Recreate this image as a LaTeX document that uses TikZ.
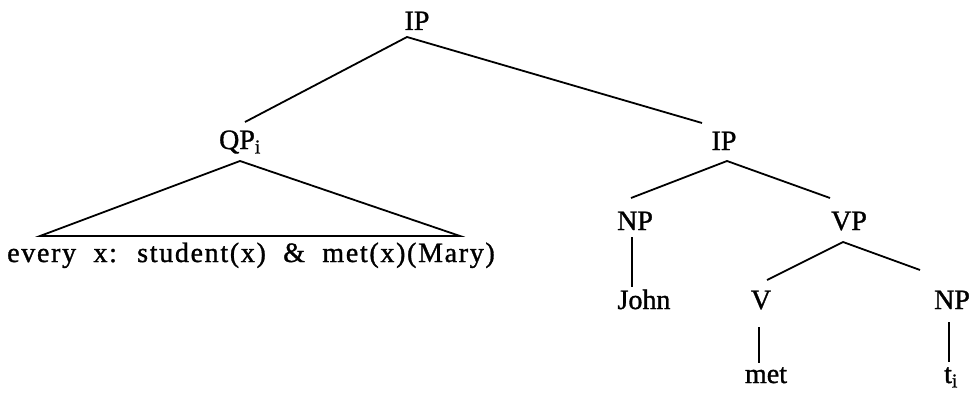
\documentclass[tikz,border=0pt]{standalone}
\usepackage{fontspec}
\setmainfont[FakeBold=1.2]{Liberation Serif}
\newfontfamily\widefont[LetterSpace=6,WordSpace=2,FakeBold=1.2]{Liberation Serif}
\begin{document}
\begin{tikzpicture}[x=1pt,y=-1pt,
  lbl/.style={anchor=base,inner sep=0pt,font=\fontsize{28}{34}\selectfont},
  edge/.style={line width=1.8pt,line join=miter}]
\useasboundingbox (0,0) rectangle (973,393);
% labels
\node[lbl] (ip1) at (417,30) {IP};
\node[lbl] (qp) at (240,149) {QP\textsubscript{i}};
\node[lbl] (ip2) at (724,150) {IP};
\node[lbl] (np1) at (635,230) {NP};
\node[lbl] (vp) at (849,230) {VP};
\node[lbl] (john) at (644,309) {John};
\node[lbl] (v) at (761,309) {V};
\node[lbl] (np2) at (952,309) {NP};
\node[lbl] (met) at (766,383) {met};
\node[lbl] (ti) at (951,383) {t\textsubscript{i}};
\node[lbl,font=\fontsize{28}{34}\widefont] (every) at (251,262) {every x: student(x) \& met(x)(Mary)};
% connector ends
\coordinate (ip1a) at (407,37);
\coordinate (qpt) at (245,122);
\coordinate (ip2t) at (702,123);
\coordinate (qpa) at (240,161);
\coordinate (trl) at (40,236);
\coordinate (trr) at (460,236);
\coordinate (ip2a) at (727,161);
\coordinate (np1t) at (631,198);
\coordinate (vpt) at (830,198);
\coordinate (np1b) at (632,237);
\coordinate (johnt) at (632,287);
\coordinate (vpa) at (843,242);
\coordinate (vt) at (767,280);
\coordinate (np2t) at (920,270);
\coordinate (vb) at (759,327);
\coordinate (mett) at (759,363);
\coordinate (np2b) at (949,322);
\coordinate (tit) at (949,362);
% connectors
\draw[edge] (qpt) -- (ip1a) -- (ip2t);
\draw[edge] (trl) -- (qpa) -- (trr) -- cycle;
\draw[edge] (np1t) -- (ip2a) -- (vpt);
\draw[edge] (np1b) -- (johnt);
\draw[edge] (vt) -- (vpa) -- (np2t);
\draw[edge] (vb) -- (mett);
\draw[edge] (np2b) -- (tit);
\end{tikzpicture}
\end{document}
